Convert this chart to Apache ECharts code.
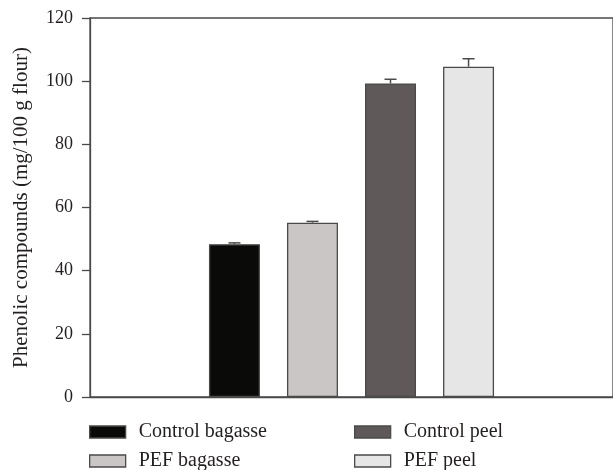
<!DOCTYPE html>
<html>
<head>
<meta charset="utf-8">
<script src="https://cdn.jsdelivr.net/npm/echarts@6/dist/echarts.min.js"></script>
<style>
html,body{margin:0;padding:0;background:#fff;}
#chart{width:613px;height:470px;}
</style>
</head>
<body>
<div id="chart"></div>
<script>
// ---- data ----
var seriesNames = ['Control bagasse', 'PEF bagasse', 'Control peel', 'PEF peel'];
var values = [48.4, 55.2, 99.3, 104.6];
var errors = [0.4, 0.4, 1.3, 2.5];
var yTicks = [0, 20, 40, 60, 80, 100, 120];
var barColors = ['#0a0a08', '#cac6c5', '#5f5a59', '#e6e6e6'];

// ---- layout constants ----
var BAR_WIDTH = 51;
var BAR_GAP = 0.53;
var FONT = '"Liberation Serif", "DejaVu Serif", serif';
var TEXT_COLOR = '#231f20';
var LINE_COLOR = '#4a4a4a';
var LEGEND_LEFT = [89, 89, 354, 354];
var LEGEND_TOP = [422, 451, 422, 451];

var chart = echarts.init(document.getElementById('chart'), null, {renderer: 'canvas'});

var barSeries = seriesNames.map(function (name, i) {
  return {
    name: name,
    type: 'bar',
    data: [values[i]],
    barWidth: BAR_WIDTH,
    barGap: (BAR_GAP * 100) + '%',
    itemStyle: {color: barColors[i], borderColor: LINE_COLOR, borderWidth: 1.3},
    emphasis: {disabled: true},
    z: 2
  };
});

var errData = values.map(function (v, i) { return [0, v, errors[i], i]; });

var errorSeries = {
  type: 'custom',
  name: 'err',
  data: errData,
  encode: {x: 0, y: 1},
  z: 5,
  renderItem: function (params, api) {
    var idx = api.value(3);
    var n = seriesNames.length;
    var step = BAR_WIDTH * (1 + BAR_GAP);
    var offset = (idx - (n - 1) / 2) * step;
    var base = api.coord([api.value(0), api.value(1)]);
    var top = api.coord([api.value(0), api.value(1) + api.value(2)]);
    var x = base[0] + offset;
    var half = 6;
    return {
      type: 'group',
      children: [
        {type: 'line', shape: {x1: x, y1: base[1], x2: x, y2: top[1]},
         style: {stroke: LINE_COLOR, lineWidth: 1.5}},
        {type: 'line', shape: {x1: x - half, y1: top[1], x2: x + half, y2: top[1]},
         style: {stroke: LINE_COLOR, lineWidth: 1.5}}
      ]
    };
  }
};

var legends = seriesNames.map(function (name, i) {
  return {
    data: [name],
    left: LEGEND_LEFT[i],
    top: LEGEND_TOP[i],
    orient: 'horizontal',
    itemWidth: 36,
    itemHeight: 12,
    selectedMode: false,
    icon: 'rect',
    padding: 0,
    textStyle: {fontFamily: FONT, fontSize: 20, color: TEXT_COLOR, padding: [0, 0, 0, 8]},
    itemStyle: {borderColor: LINE_COLOR, borderWidth: 1.3}
  };
});

var option = {
  backgroundColor: '#fff',
  animation: false,
  grid: {
    left: 90, top: 18, right: -2, bottom: 73,
    show: true, borderColor: LINE_COLOR, borderWidth: 1.3, backgroundColor: 'transparent'
  },
  legend: legends,
  xAxis: {
    type: 'category',
    data: [''],
    axisLine: {show: true, lineStyle: {color: LINE_COLOR, width: 1.3}},
    axisTick: {show: false},
    axisLabel: {show: false},
    splitLine: {show: false}
  },
  yAxis: {
    type: 'value',
    min: yTicks[0],
    max: yTicks[yTicks.length - 1],
    interval: yTicks[1] - yTicks[0],
    name: 'Phenolic compounds (mg/100 g flour)',
    nameLocation: 'middle',
    nameGap: 58,
    nameTextStyle: {fontFamily: FONT, fontSize: 21, color: TEXT_COLOR},
    axisLine: {show: true, lineStyle: {color: LINE_COLOR, width: 1.3}},
    axisTick: {show: true, inside: false, length: 8, lineStyle: {color: LINE_COLOR, width: 1.3}},
    axisLabel: {fontFamily: FONT, fontSize: 18, color: TEXT_COLOR, margin: 17},
    splitLine: {show: false}
  },
  series: barSeries.concat([errorSeries])
};

chart.setOption(option);
</script>
</body>
</html>
